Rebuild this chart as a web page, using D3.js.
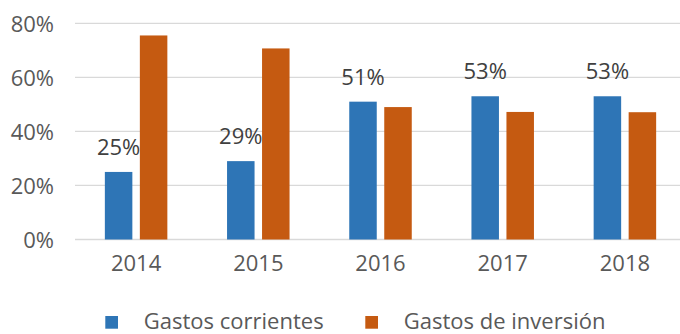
<!DOCTYPE html>
<html>
<head>
<meta charset="utf-8">
<script src="https://cdn.jsdelivr.net/npm/d3@7"></script>
<style>
  html, body { margin: 0; padding: 0; background: #fff; }
  svg text { font-family: "Open Sans", "Noto Sans", sans-serif; fill: #595959; }
  svg text.value { fill: #404040; }
</style>
</head>
<body>
<svg id="chart" width="680" height="334"></svg>
<script>
// Share of spending by type, per year
const years = ["2014", "2015", "2016", "2017", "2018"];
const corrientes = [0.25, 0.29, 0.51, 0.53, 0.53];
const inversion = [0.755, 0.707, 0.49, 0.472, 0.471];
const seriesNames = ["Gastos corrientes", "Gastos de inversión"];
const seriesColors = ["#2E75B6", "#C55A11"];
const yTicks = [0, 0.2, 0.4, 0.6, 0.8];

const svg = d3.select("#chart");
const fontSize = 22;

const x = d3.scaleBand().domain(years).range([75, 686]).paddingInner(0).paddingOuter(0);
const y = d3.scaleLinear().domain([0, 0.8]).range([239.5, 23.3]);

const barW = 27.5;
const gap = 7.5;

// gridlines
svg.append("g")
  .selectAll("line")
  .data(yTicks)
  .join("line")
  .attr("x1", 75).attr("x2", 680)
  .attr("y1", d => y(d)).attr("y2", d => y(d))
  .attr("stroke", "#D9D9D9").attr("stroke-width", 1.3);

// y axis labels
const yAxis = d3.axisLeft(y).tickValues(yTicks).tickFormat(d3.format(".0%")).tickSize(0).tickPadding(0);
const yg = svg.append("g").attr("transform", "translate(54,0)").call(yAxis);
yg.select(".domain").remove();
yg.selectAll("text").attr("font-size", fontSize).attr("font-family", null).attr("fill", null).attr("dy", "0.36em");

// x axis labels
const xAxis = d3.axisBottom(x).tickSize(0).tickPadding(0);
const xg = svg.append("g").attr("transform", "translate(0,255)").call(xAxis);
xg.select(".domain").remove();
xg.selectAll("text").attr("font-size", fontSize).attr("font-family", null).attr("fill", null).attr("dy", "0.71em");

const series = [corrientes, inversion];
series.forEach((vals, si) => {
  svg.append("g")
    .selectAll("rect")
    .data(vals)
    .join("rect")
    .attr("x", (d, i) => x(years[i]) + x.bandwidth() / 2 + (si === 0 ? -gap / 2 - barW : gap / 2))
    .attr("y", d => y(d))
    .attr("width", barW)
    .attr("height", d => y(0) - y(d))
    .attr("fill", seriesColors[si]);
});

// value labels above the current-spending bars
svg.append("g")
  .selectAll("text")
  .data(corrientes)
  .join("text")
  .attr("class", "value")
  .attr("x", (d, i) => x(years[i]) + x.bandwidth() / 2 - gap / 2 - barW / 2)
  .attr("y", d => y(d) - 17)
  .attr("text-anchor", "middle")
  .attr("font-size", fontSize)
  .text(d => d3.format(".0%")(d));

// legend
const legendX = [105.3, 365.3];
const lg = svg.append("g");
seriesNames.forEach((name, i) => {
  lg.append("rect").attr("x", legendX[i]).attr("y", 316).attr("width", 12.7).attr("height", 12.7).attr("fill", seriesColors[i]);
  lg.append("text").attr("x", legendX[i] + 38.5).attr("y", 329).attr("font-size", fontSize).text(name);
});
</script>
</body>
</html>
